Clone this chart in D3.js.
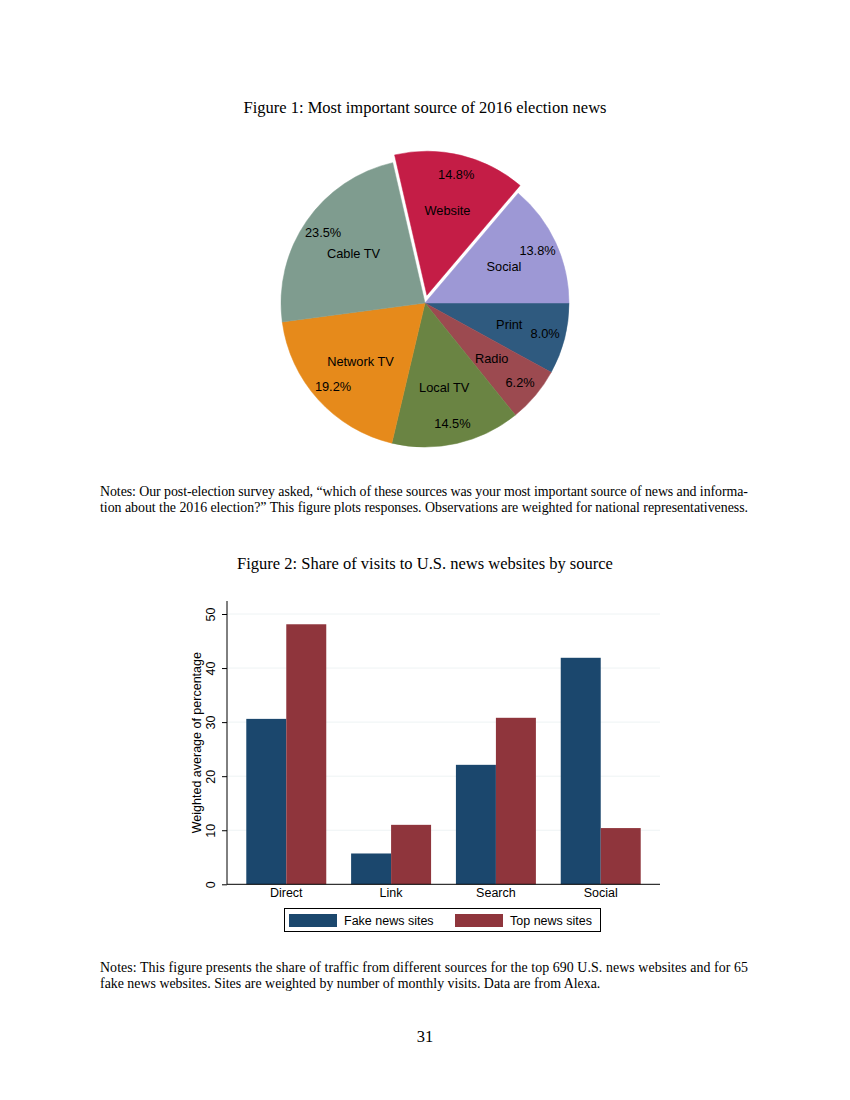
<!DOCTYPE html>
<html>
<head>
<meta charset="utf-8">
<script src="https://cdn.jsdelivr.net/npm/d3@7"></script>
<style>
  body { margin: 0; background: #fff; }
  svg { display: block; }
  .serif { font-family: "Liberation Serif", "Times New Roman", serif; fill: #000; }
  .sans { font-family: "Liberation Sans", Arial, sans-serif; fill: #000; }
</style>
</head>
<body>
<svg id="page" width="850" height="1100"></svg>
<script>
// figure 1: pie, order is clockwise from 3 o'clock
var pieLabels = ['Print', 'Radio', 'Local TV', 'Network TV', 'Cable TV', 'Website', 'Social'];
var pieValues = [8.0, 6.2, 14.5, 19.2, 23.5, 14.8, 13.8];
var pieColors = ['#2f5a7f', '#9c4a50', '#6a8443', '#e68a1b', '#7f9c8f', '#c41d46', '#9d98d5'];
var pieExploded = ['Website'];

// figure 2: grouped bars
var barCategories = ['Direct', 'Link', 'Search', 'Social'];
var barSeries = ['Fake news sites', 'Top news sites'];
var fakeValues = [30.6, 5.7, 22.1, 41.9];
var topValues = [48.1, 11.0, 30.8, 10.4];
var barColors = ['#1b476d', '#8f353c'];
var yTicks = [0, 10, 20, 30, 40, 50];

var title1 = 'Figure 1: Most important source of 2016 election news';
var title2 = 'Figure 2: Share of visits to U.S. news websites by source';
var notes1 = [
  'Notes: Our post-election survey asked, \u201cwhich of these sources was your most important source of news and informa-',
  'tion about the 2016 election?\u201d This figure plots responses. Observations are weighted for national representativeness.'
];
var notes2 = [
  'Notes:  This figure presents the share of traffic from different sources for the top 690 U.S. news websites and for 65',
  'fake news websites. Sites are weighted by number of monthly visits. Data are from Alexa.'
];

var svg = d3.select('#page');

// text helper, justify = stretch to full column width
var writeLines = function(lines, y0, justify) {
  lines.forEach(function(line, idx) {
    var t = svg.append('text')
      .attr('class', 'serif')
      .attr('x', 100)
      .attr('y', y0 + idx * 16)
      .style('font-size', '13.9px')
      .text(line);
    if (justify[idx]) t.attr('textLength', 648).attr('lengthAdjust', 'spacing');
  });
};

// ---- figure 1 ----
svg.append('text').attr('class', 'serif')
  .attr('x', 425).attr('y', 113)
  .attr('text-anchor', 'middle')
  .style('font-size', '16.5px')
  .text(title1);

var cx = 425, cy = 303, r = 144;
var pie = d3.pie().sort(null).value(function(d) { return d.v; })
  .startAngle(Math.PI / 2).endAngle(Math.PI / 2 + 2 * Math.PI);
var arcs = pie(pieLabels.map(function(l, i) { return { label: l, v: pieValues[i], color: pieColors[i] }; }));
var arc = d3.arc().innerRadius(0).outerRadius(r);
var pctArc = d3.arc().innerRadius(124).outerRadius(124);
var lblArc = d3.arc().innerRadius(87).outerRadius(87);

var gPie = svg.append('g').attr('transform', 'translate(' + cx + ',' + cy + ')');
var slices = gPie.selectAll('g.slice').data(arcs).enter().append('g')
  .attr('class', 'slice')
  .attr('transform', function(d) {
    if (pieExploded.indexOf(d.data.label) < 0) return null;
    var a = (d.startAngle + d.endAngle) / 2;
    return 'translate(' + (8 * Math.sin(a)) + ',' + (-8 * Math.cos(a)) + ')';
  });

slices.append('path')
  .attr('d', arc)
  .attr('fill', function(d) { return d.data.color; })
  .attr('stroke', function(d) { return d.data.color; })
  .attr('stroke-width', 0.5);

slices.append('text').attr('class', 'sans')
  .attr('transform', function(d) { return 'translate(' + pctArc.centroid(d) + ')'; })
  .attr('text-anchor', 'middle').attr('dy', '0.35em')
  .style('font-size', '12.8px')
  .text(function(d) { return d.data.v.toFixed(1) + '%'; });

slices.append('text').attr('class', 'sans')
  .attr('transform', function(d) { return 'translate(' + lblArc.centroid(d) + ')'; })
  .attr('text-anchor', 'middle').attr('dy', '0.35em')
  .style('font-size', '12.8px')
  .text(function(d) { return d.data.label; });

writeLines(notes1, 496, [true, true]);

// ---- figure 2 ----
svg.append('text').attr('class', 'serif')
  .attr('x', 425).attr('y', 569)
  .attr('text-anchor', 'middle')
  .style('font-size', '16.5px')
  .text(title2);

var plotLeft = 227, plotRight = 660, plotTop = 601, plotBottom = 884.3;

var y = d3.scaleLinear().domain([0, 50]).range([plotBottom, 614]);
var x0 = d3.scaleBand().domain(barCategories).range([plotLeft, plotRight])
  .paddingInner(0.237).paddingOuter(0.184);
var x1 = d3.scaleBand().domain(barSeries).range([0, x0.bandwidth()]);

var gBar = svg.append('g');

// gridlines
gBar.selectAll('line.grid').data(yTicks.slice(1)).enter().append('line')
  .attr('x1', plotLeft).attr('x2', plotRight)
  .attr('y1', function(d) { return y(d); }).attr('y2', function(d) { return y(d); })
  .attr('stroke', '#eef3f4').attr('stroke-width', 1);

var rows = barCategories.map(function(c, i) { return { cat: c, vals: [fakeValues[i], topValues[i]] }; });
gBar.selectAll('g.grp').data(rows).enter().append('g')
  .attr('transform', function(d) { return 'translate(' + x0(d.cat) + ',0)'; })
  .selectAll('rect').data(function(d) { return d.vals; }).enter().append('rect')
  .attr('x', function(d, i) { return x1(barSeries[i]); })
  .attr('width', x1.bandwidth())
  .attr('y', function(d) { return y(d); })
  .attr('height', function(d) { return plotBottom - y(d); })
  .attr('fill', function(d, i) { return barColors[i]; });

// y axis
var yAxis = gBar.append('g')
  .attr('transform', 'translate(' + plotLeft + ',0)')
  .call(d3.axisLeft(y).tickValues(yTicks).tickSize(5).tickSizeOuter(0).tickFormat(d3.format('d')));
yAxis.select('.domain').remove();
yAxis.selectAll('line').attr('stroke', '#000');
yAxis.selectAll('text')
  .attr('class', 'sans')
  .attr('x', null).attr('dy', null)
  .attr('transform', 'translate(-16,0) rotate(-90)')
  .attr('text-anchor', 'middle')
  .attr('dominant-baseline', 'central')
  .style('font-size', '12.5px').style('font-family', '"Liberation Sans", Arial, sans-serif');
gBar.append('line').attr('x1', plotLeft).attr('x2', plotLeft).attr('y1', plotTop).attr('y2', plotBottom)
  .attr('stroke', '#000').attr('stroke-width', 1);

// x axis
var xAxis = gBar.append('g')
  .attr('transform', 'translate(0,' + plotBottom + ')')
  .call(d3.axisBottom(x0).tickSize(0).tickPadding(4));
xAxis.select('.domain').remove();
xAxis.selectAll('text')
  .attr('fill', '#000')
  .style('font-size', '12.5px').style('font-family', '"Liberation Sans", Arial, sans-serif');
gBar.append('line').attr('x1', plotLeft).attr('x2', plotRight).attr('y1', plotBottom).attr('y2', plotBottom)
  .attr('stroke', '#000').attr('stroke-width', 1);

svg.append('text').attr('class', 'sans')
  .attr('transform', 'translate(197,' + ((plotTop + plotBottom) / 2) + ') rotate(-90)')
  .attr('text-anchor', 'middle').attr('dominant-baseline', 'central')
  .style('font-size', '12.5px')
  .text('Weighted average of percentage');

// legend
var gLeg = svg.append('g');
gLeg.append('rect').attr('x', 284.5).attr('y', 908.5).attr('width', 316).attr('height', 23)
  .attr('fill', '#fff').attr('stroke', '#000').attr('stroke-width', 1);
var legX = [289, 455];
barSeries.forEach(function(s, i) {
  gLeg.append('rect').attr('x', legX[i]).attr('y', 914).attr('width', 48).attr('height', 13)
    .attr('fill', barColors[i]);
  gLeg.append('text').attr('class', 'sans')
    .attr('x', legX[i] + 55).attr('y', 920.5)
    .attr('dominant-baseline', 'central')
    .style('font-size', '12.5px')
    .text(s);
});

writeLines(notes2, 972, [true, false]);

// page number
svg.append('text').attr('class', 'serif')
  .attr('x', 425).attr('y', 1042)
  .attr('text-anchor', 'middle')
  .style('font-size', '16.5px')
  .text('31');
</script>
</body>
</html>
